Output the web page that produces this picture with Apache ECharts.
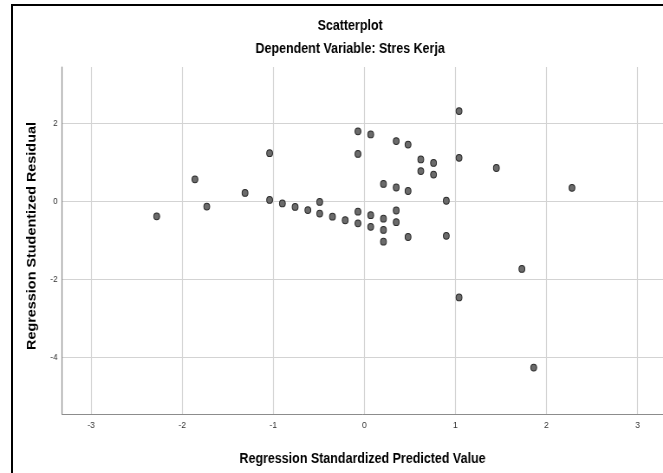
<!DOCTYPE html>
<html>
<head>
<meta charset="utf-8">
<script src="https://cdn.jsdelivr.net/npm/echarts@6/dist/echarts.min.js"></script>
<style>
html,body{margin:0;padding:0;background:#fff;overflow:hidden;}
#chart{position:absolute;left:0;top:0;width:765px;height:473px;transform:scaleX(0.8667);transform-origin:0 0;}
#frame{position:absolute;left:11px;top:4px;width:700px;height:500px;border-left:2px solid #000;border-top:2px solid #000;pointer-events:none;}
</style>
</head>
<body>
<div id="chart"></div><div id="frame"></div>
<script>
const titleText = "Scatterplot";
const subtitleText = "Dependent Variable: Stres Kerja";
const xAxisName = "Regression Standardized Predicted Value";
const yAxisName = "Regression Studentized Residual";
const xTicks = [-3, -2, -1, 0, 1, 2, 3];
const yTicks = [-4, -2, 0, 2];
const predicted = [-2.28,-1.86,-1.73,-1.31,-1.04,-1.04,-0.90,-0.76,-0.62,-0.49,-0.49,-0.35,-0.21,-0.07,-0.07,-0.07,-0.07,0.07,0.07,0.07,0.21,0.21,0.21,0.21,0.35,0.35,0.35,0.35,0.48,0.48,0.48,0.62,0.62,0.76,0.76,0.90,0.90,1.04,1.04,1.45,2.28,1.73,1.04,1.86];
const residual  = [-0.39,0.56,-0.14,0.21,1.23,0.03,-0.06,-0.15,-0.23,-0.02,-0.32,-0.40,-0.49,-0.27,-0.57,1.79,1.21,1.71,-0.36,-0.66,0.44,-0.45,-0.74,-1.04,1.54,0.35,-0.24,-0.54,1.45,0.26,-0.92,1.07,0.77,0.98,0.68,0.01,-0.89,2.31,1.11,0.85,0.34,-1.74,-2.47,-4.27];

const FONT = "'Liberation Sans',Arial,sans-serif";
const TF = 14.4;
const chart = echarts.init(document.getElementById('chart'), null, {renderer:'canvas', width:765, height:473});
const pts = predicted.map((x,i)=>[x, residual[i]]);
chart.setOption({
  animation:false,
  backgroundColor:'#fff',
  title:[
    {text:titleText, left:399, top:14, textAlign:'center', textStyle:{fontFamily:FONT, fontSize:TF, fontWeight:'bold', color:'#000'}},
    {text:subtitleText, left:399, top:37, textAlign:'center', textStyle:{fontFamily:FONT, fontSize:TF, fontWeight:'bold', color:'#000'}}
  ],
  grid:{left:71.5, top:67, right:0, bottom:59, containLabel:false},
  xAxis:{
    type:'value', min:-3.32, max:3.28,
    name:xAxisName, nameLocation:'middle', nameGap:38,
    nameTextStyle:{fontFamily:FONT, fontSize:TF, fontWeight:'bold', color:'#000'},
    axisLine:{show:true, onZero:false, lineStyle:{color:'#8c8c8c', width:1}},
    axisTick:{show:false, customValues:xTicks},
    axisLabel:{show:true, customValues:xTicks, margin:6, fontFamily:FONT, fontSize:9.5, color:'#333'},
    splitLine:{show:true, lineStyle:{color:'#d3d3d3', width:1.15}}
  },
  yAxis:{
    type:'value', min:-5.46, max:3.44,
    name:yAxisName, nameLocation:'middle', nameGap:27,
    nameTextStyle:{fontFamily:FONT, fontSize:TF, fontWeight:'bold', color:'#000', padding:[0,0,0,9]},
    axisLine:{show:true, onZero:false, lineStyle:{color:'#8c8c8c', width:1.15}},
    axisTick:{show:false, customValues:yTicks},
    axisLabel:{show:true, customValues:yTicks, margin:5, fontFamily:FONT, fontSize:9.5, color:'#333'},
    splitLine:{show:true, lineStyle:{color:'#d3d3d3', width:1}}
  },
  series:[{
    type:'scatter', data:pts, symbol:'circle', symbolSize:6.8,
    itemStyle:{color:'#6b6b6b', borderColor:'#2a2a2a', borderWidth:1, opacity:1}
  }]
});
</script>
</body>
</html>
